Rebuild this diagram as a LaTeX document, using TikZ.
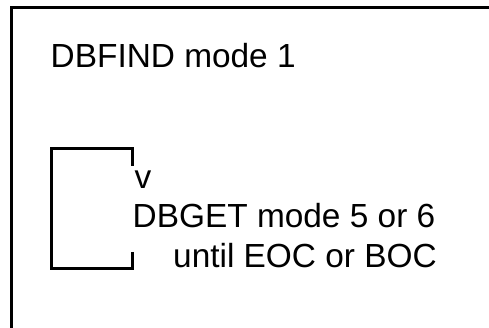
\documentclass[tikz,border=0pt]{standalone}
\usepackage{fontspec}
\setmainfont{Liberation Sans}
\begin{document}
\begin{tikzpicture}[x=1pt,y=-1pt]
	\tikzset{step text/.style={anchor=base west, inner sep=0pt, font=\fontsize{33.4}{40}\selectfont}}
	\useasboundingbox (0,0) rectangle (489,328);
	
	% Frame
	\draw[line width=3pt] (11.5,328) -- (11.5,7.5) -- (489,7.5);
	
	% Steps
	\node[step text] (find) at (50.5,67.7) {DBFIND mode 1};
	\node[step text] (arrow) at (134.5,188.5) {v};
	\node[step text] (get) at (132.5,228) {DBGET mode 5 or 6};
	\node[step text] (until) at (173,267) {until EOC or BOC};
	
	% Loop back
	\coordinate (loopin) at (132.5,166);
	\coordinate (loopout) at (132.5,252);
	\draw[line width=3pt] (loopout) -- ++(0,16.5) -| (51.5,148.5) -| (loopin);
\end{tikzpicture}
\end{document}
